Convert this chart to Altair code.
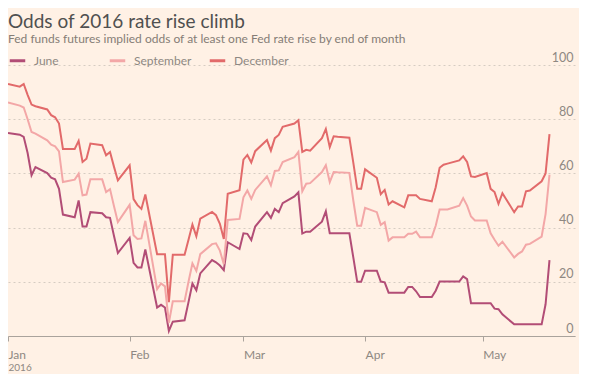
import altair as alt
import pandas as pd

dates = (
    ["2016-01-%02d" % d for d in [1, 4, 5, 6, 7, 8, 11, 12, 13, 14, 15, 18, 19, 20, 21, 22, 25, 26, 27, 28, 29]]
    + ["2016-02-%02d" % d for d in [1, 2, 3, 4, 5, 8, 9, 10, 11, 12, 15, 16, 17, 18, 19, 22, 23, 24, 25, 26, 29]]
    + ["2016-03-%02d" % d for d in [1, 2, 3, 4, 7, 8, 9, 10, 11, 14, 15, 16, 17, 18, 21, 22, 23, 24, 25, 28, 29, 30, 31]]
    + ["2016-04-%02d" % d for d in [1, 4, 5, 6, 7, 8, 11, 12, 13, 14, 15, 18, 19, 20, 21, 22, 25, 26, 27, 28, 29]]
    + ["2016-05-%02d" % d for d in [2, 3, 4, 5, 6, 9, 10, 11, 12, 13, 16, 17, 18]]
)

june = [
    74.9, 74.3, 73.5, 67.5, 59.3, 62.3, 60.1, 58.4, 57.8, 54.3, 44.8, 43.8, 50.0, 40.4, 40.4, 45.7, 45.3, 43.8, 43.6, 37.0, 30.6,
    36.2, 27.0, 25.3, 25.3, 31.9, 10.5, 11.5, 10.5, 1.9, 5.3, 5.8, 12.5, 19.4, 16.9, 23.1, 28.0, 27.2, 26.0, 24.3, 34.6, 32.1,
    37.9, 37.7, 35.4, 40.4, 45.7, 43.6, 46.9, 45.7, 49.0, 51.5, 53.0, 37.8, 38.5, 38.5, 42.2, 46.0, 37.9, 37.9, 37.9, 37.9, 29.0, 20.0, 20.0,
    24.1, 24.1, 20.1, 19.8, 16.0, 16.0, 16.0, 18.1, 18.1, 16.5, 14.4, 14.4, 16.7, 20.1, 20.1, 20.1, 20.1, 22.0, 21.0, 12.1, 12.1,
    12.1, 12.1, 10.1, 9.9, 8.0, 4.3, 4.3, 4.3, 4.3, 4.3, 4.3, 11.7, 28.0,
]

september = [
    86.2, 85.0, 84.3, 80.0, 75.3, 74.7, 72.2, 70.6, 70.0, 68.1, 56.8, 57.7, 59.9, 51.9, 52.2, 57.8, 57.8, 53.1, 54.2, 48.0, 42.0,
    48.4, 37.2, 35.8, 36.0, 42.5, 17.3, 19.4, 18.3, 4.9, 12.8, 12.8, 20.0, 26.8, 24.0, 30.2, 33.9, 34.2, 31.5, 26.5, 42.8, 43.2,
    51.2, 53.7, 50.6, 53.9, 58.9, 55.6, 60.9, 61.1, 64.2, 66.0, 67.9, 53.4, 56.2, 56.4, 60.5, 63.0, 56.8, 60.5, 60.4, 60.2, 50.0, 40.7, 40.7,
    47.3, 45.7, 41.0, 42.0, 35.2, 36.4, 36.4, 37.7, 37.7, 38.5, 36.4, 36.4, 40.7, 46.7, 46.7, 46.7, 48.1, 50.9, 48.1, 44.1, 42.6,
    42.6, 37.9, 35.5, 33.3, 34.8, 29.0, 30.3, 31.2, 33.7, 34.0, 36.7, 45.0, 59.5,
]

december = [
    93.0, 92.0, 93.0, 89.0, 85.4, 84.8, 83.6, 81.5, 80.7, 78.4, 69.0, 69.0, 72.0, 64.2, 65.4, 71.0, 70.4, 66.7, 67.9, 62.5, 57.4,
    63.0, 50.5, 48.3, 46.9, 52.2, 30.2, 30.2, 30.2, 12.5, 30.0, 30.0, 35.5, 41.1, 36.8, 43.3, 45.8, 44.6, 41.4, 35.8, 52.5, 53.8,
    65.1, 66.8, 64.0, 68.2, 72.3, 68.4, 73.0, 74.2, 77.2, 78.4, 79.6, 67.9, 68.7, 68.4, 73.0, 76.4, 69.7, 73.7, 73.5, 73.2, 64.0, 54.3, 54.3,
    61.5, 58.4, 52.3, 53.9, 48.5, 49.7, 47.5, 51.9, 51.9, 51.9, 50.6, 49.7, 54.9, 62.1, 63.2, 63.6, 64.8, 66.3, 64.2, 58.9, 58.7,
    60.1, 54.3, 53.1, 48.8, 52.7, 45.7, 47.8, 47.8, 53.4, 53.7, 57.1, 60.0, 74.5,
]

series_names = ["June", "September", "December"]
series_colors = ["#b24d76", "#f3a7a7", "#e26a6a"]
y_ticks = [0, 20, 40, 60, 80, 100]

df = pd.DataFrame({
    "date": [d + "T00:00:00" for d in dates],
    "June": june,
    "September": september,
    "December": december,
})
long = df.melt("date", var_name="series", value_name="odds")

month_ticks = [alt.DateTime(year=2016, month=m, date=1) for m in [1, 2, 3, 4, 5]]

grey = "#8e8882"
font = "Lato"

chart = (
    alt.Chart(long)
    .mark_line(strokeWidth=2)
    .encode(
        x=alt.X(
            "date:T",
            scale=alt.Scale(domain=[alt.DateTime(year=2016, month=1, date=1),
                                    alt.DateTime(year=2016, month=5, date=24, hours=12)]),
            axis=alt.Axis(
                values=month_ticks, format="%b", labelAlign="left", labelPadding=8,
                tickSize=5, tickColor="#aaa39c", domainColor="#aaa39c", labelColor=grey,
                labelFontSize=12, grid=False, title="2016", titleAnchor="start",
                titleAlign="left", titleFontSize=10, titleFontWeight="normal",
                titleColor=grey, titlePadding=2,
            ),
        ),
        y=alt.Y(
            "odds:Q",
            scale=alt.Scale(domain=[0, 100]),
            axis=alt.Axis(
                orient="right", values=y_ticks, domain=False, ticks=False, grid=True,
                gridDash=[2, 3], gridColor="#d6ccc2", labelAlign="right",
                labelBaseline="alphabetic", labelPadding=-2, labelOffset=-4,
                labelColor=grey, labelFontSize=12.5, title=None,
            ),
        ),
        color=alt.Color(
            "series:N",
            scale=alt.Scale(domain=series_names, range=series_colors),
            legend=alt.Legend(
                orient="none", legendX=0, legendY=-14, direction="horizontal",
                title=None, symbolType="stroke", symbolSize=240, symbolStrokeWidth=3,
                labelFontSize=12, labelColor=grey, labelOffset=7, columnPadding=11,
                gridAlign="all", padding=0,
            ),
        ),
    )
    .properties(
        width=567,
        height=271,
        autosize=alt.AutoSizeParams(type="none"),
        title=alt.TitleParams(
            text="Odds of 2016 rate rise climb",
            subtitle="Fed funds futures implied odds of at least one Fed rate rise by end of month",
            anchor="start", frame="group", fontSize=19, fontWeight="normal", color="#505050",
            subtitleFontSize=12, subtitleColor="#857d76", subtitlePadding=2,
            offset=6, font=font, subtitleFont=font,
        ),
        padding={"left": 0, "top": 57, "right": 4, "bottom": 38},
    )
    .configure(background="#fff1e5", font=font)
    .configure_view(stroke=None)
)

chart.save("out.html", embed_options={"renderer": "svg", "actions": False})
